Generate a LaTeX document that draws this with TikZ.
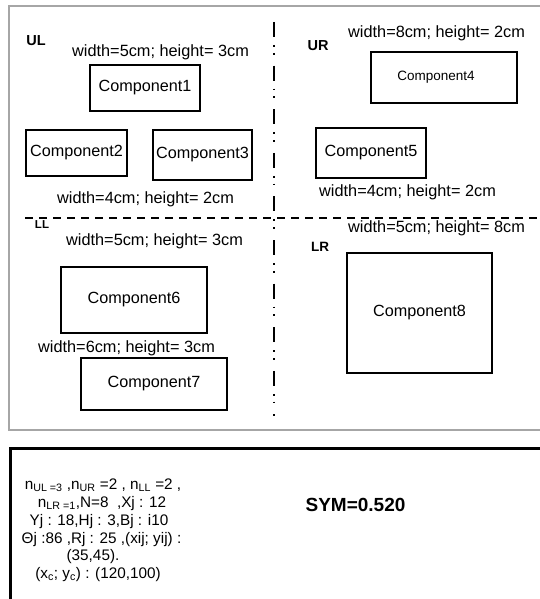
\documentclass[tikz,border=0pt]{standalone}
\usepackage{fontspec}
\setmainfont{Liberation Sans}
\tikzset{
  comp/.style={draw, line width=1.6pt, inner sep=0pt, font=\fontsize{16.2}{19}\selectfont},
  dimlabel/.style={anchor=base west, inner sep=0pt, font=\fontsize{16.3}{19}\selectfont},
  region/.style={inner sep=0pt, font=\fontsize{#1}{#1}\selectfont\bfseries},
  info/.style={anchor=base, inner sep=0pt, font=\fontsize{15.3}{18}\selectfont},
  frame/.style={draw=gray!70, line width=1.3pt},
  panel/.style={draw=black, line width=3pt},
  hdivider/.style={line width=1.8pt, dash pattern=on 8pt off 6pt},
  vdivider/.style={line width=1.8pt, dash pattern=on 15pt off 8pt on 1.8pt off 6pt on 1.8pt off 11pt}
}
\begin{document}
\begin{tikzpicture}[x=1pt,y=-1pt]
\useasboundingbox (0,0) rectangle (539,599);

% outer frame of the layout area
\draw[frame] (545,6) -- (9,6) -- (9,430) -- (545,430);

% quadrant dividers
\draw[hdivider] (25,218) -- (545,218);
\draw[vdivider] (274,22) -- (274,416);

% region names
\node[region=14.5] (ul) at (36,41) {UL};
\node[region=14.5] (ur) at (318,46) {UR};
\node[region=11.5] (ll) at (42,225) {LL};
\node[region=13.5] (lr) at (320,247) {LR};

% components
\node[comp, minimum width=110pt, minimum height=46pt] (c1) at (145,88) {Component1};
\node[comp, minimum width=101pt, minimum height=46pt] (c2) at (76.5,153) {Component2};
\node[comp, minimum width=99pt, minimum height=50pt] (c3) at (202.5,155) {Component3};
\node[comp, minimum width=146pt, minimum height=51pt, font=\fontsize{13.5}{16}\selectfont] (c4) at (444,77.5) {Component4\hspace*{16pt}};
\node[comp, minimum width=110pt, minimum height=50pt] (c5) at (371,153) {Component5};
\node[comp, minimum width=146pt, minimum height=66pt] (c6) at (134,300) {Component6};
\node[comp, minimum width=146pt, minimum height=52pt] (c7) at (154,384) {Component7};
\node[comp, minimum width=145pt, minimum height=120pt] (c8) at (419.5,313) {Component8};

% size annotations
\node[dimlabel] (d1) at (72,57) {width=5cm; height= 3cm};
\node[dimlabel] (d2) at (57,203) {width=4cm; height= 2cm};
\node[dimlabel] (d3) at (348,38) {width=8cm; height= 2cm};
\node[dimlabel] (d4) at (319,196) {width=4cm; height= 2cm};
\node[dimlabel] (d5) at (66,245) {width=5cm; height= 3cm};
\node[dimlabel] (d6) at (38,352) {width=6cm; height= 3cm};
\node[dimlabel] (d7) at (348,232) {width=5cm; height= 8cm};

% parameter panel
\draw[panel] (545,448) -- (10,448) -- (10,605);
\node[info] (p1) at (103,489) {n\textsubscript{UL =3} ,n\textsubscript{UR} =2 , n\textsubscript{LL} =2 ,};
\node[info] (p2) at (102,507) {n\textsubscript{LR =1},N=8 \ ,Xj : 12};
\node[info] (p3) at (99,525) {Yj : 18,Hj : 3,Bj : i10};
\node[info] (p4) at (101.5,543) {Θj :86 ,Rj : 25 ,(xij; yij) :};
\node[info] (p5) at (93,560) {(35,45).};
\node[info] (p6) at (98,578) {(x\textsubscript{c}; y\textsubscript{c}) : (120,100)};
\node[region=19] (sym) at (355.5,505) {SYM=0.520};
\end{tikzpicture}
\end{document}
